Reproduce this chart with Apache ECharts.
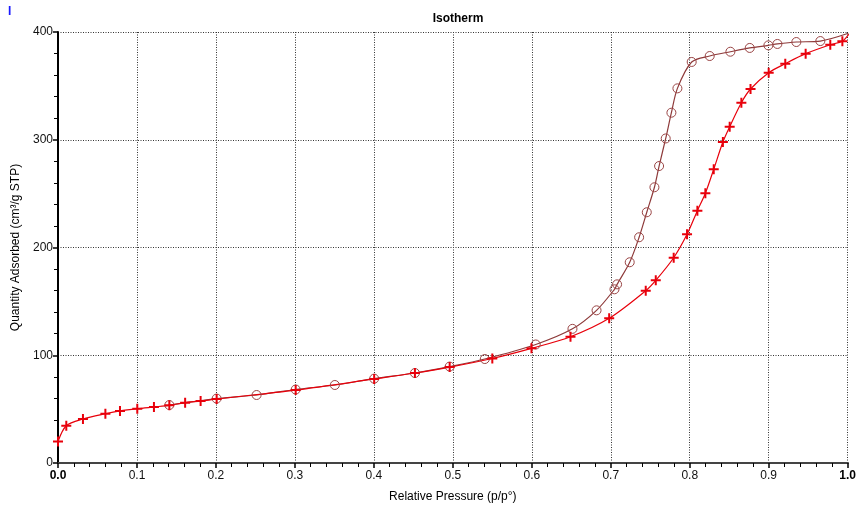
<!DOCTYPE html>
<html><head><meta charset="utf-8">
<script src="https://cdn.jsdelivr.net/npm/echarts@6/dist/echarts.min.js"></script>
<style>html,body{margin:0;padding:0;background:#fff}#c{width:859px;height:511px}</style>
</head><body><div id="c"></div>
<script>
const adsP = [0, 0.0105, 0.0316, 0.060, 0.0785, 0.1004, 0.1215, 0.141, 0.161, 0.1806, 0.2009, 0.301, 0.4004, 0.452, 0.496, 0.55, 0.5996, 0.649, 0.698, 0.7443, 0.757, 0.7797, 0.7966, 0.8097, 0.8198, 0.8304, 0.842, 0.8506, 0.8654, 0.877, 0.9, 0.921, 0.9468, 0.978, 0.9933, 1.0016];
const adsQ = [20, 34.6, 40.8, 45.7, 48.3, 50.4, 52, 53.5, 56, 57.5, 59.4, 67.7, 78, 83.5, 89, 97, 106.4, 117.2, 134.3, 159.9, 169.5, 190.5, 212.2, 234.2, 250.3, 272.6, 297.9, 312.1, 334.4, 347.1, 362.2, 370.6, 379.9, 388.2, 391.4, 398];
const desP = [1.0009, 0.9654, 0.935, 0.911, 0.8996, 0.876, 0.8515, 0.8253, 0.8025, 0.7844, 0.7768, 0.7696, 0.7612, 0.7553, 0.7456, 0.7359, 0.724, 0.708, 0.7047, 0.682, 0.6515, 0.605, 0.5405, 0.496, 0.452, 0.4004, 0.3506, 0.301, 0.2515, 0.2009, 0.141];
const desQ = [398.8, 391.6, 390.7, 388.9, 387.6, 385.2, 381.7, 377.7, 372.2, 347.7, 325.1, 301.2, 275.6, 255.9, 232.7, 209.5, 186.3, 165.8, 161.2, 141.7, 124.5, 110, 96.5, 89.5, 83.5, 78.3, 72.4, 68.2, 63.1, 59.8, 53.8];
const xTicks = ['0.0','0.1','0.2','0.3','0.4','0.5','0.6','0.7','0.8','0.9','1.0'];
const yTicks = ['0','100','200','300','400'];

const ads = adsP.map((p,i)=>[p, adsQ[i]]);
const des = desP.map((p,i)=>[p, desQ[i]]);
const plus = 'path://M-2,-10H2V-2H10V2H2V10H-2V2H-10V-2H-2Z';
const FONT = '"Liberation Sans", Arial, sans-serif';

const chart = echarts.init(document.getElementById('c'), null, {renderer:'canvas'});
chart.setOption({
  animation:false,
  backgroundColor:'#fff',
  title:{text:'Isotherm', left:453, top:8, textAlign:'center',
    textStyle:{fontFamily:FONT, fontSize:12, fontWeight:'bold', color:'#000'}},
  graphic:[{type:'text', left:8, top:6, style:{text:'I', fill:'#1a1aff', font:'bold 12px '+FONT}}],
  grid:{left:58, right:11, top:32, bottom:48},
  xAxis:[{
    type:'value', min:0, max:1, interval:0.1, splitNumber:10,
    name:'Relative Pressure (p/p°)', nameLocation:'middle', nameGap:28,
    nameTextStyle:{fontFamily:FONT, fontSize:12, color:'#000'},
    axisLine:{show:true, onZero:false, lineStyle:{color:'#000', width:2}},
    axisTick:{show:true, length:5, lineStyle:{color:'#000', width:1.5}},
    minorTick:{show:true, splitNumber:5, length:4, lineStyle:{color:'#000', width:1}},
    axisLabel:{fontFamily:FONT, fontSize:12, color:'#111', margin:7,
      formatter:(v)=>{const i=Math.round(v*10); const s=xTicks[i]; return (i===0||i===10)?'{b|'+s+'}':s;},
      rich:{b:{fontFamily:FONT, fontSize:12, fontWeight:'bold', color:'#000'}}},
    splitLine:{show:true, lineStyle:{color:'#333', type:[1,1.5], width:1}}
  },{
    type:'value', position:'top', min:0, max:1,
    axisLine:{show:true, lineStyle:{color:'#444', width:2}},
    axisTick:{show:false}, axisLabel:{show:false}, splitLine:{show:false}
  }],
  yAxis:{
    type:'value', min:0, max:400, interval:100,
    name:'Quantity Adsorbed (cm³/g STP)', nameLocation:'middle', nameGap:36,
    nameTextStyle:{fontFamily:FONT, fontSize:12, color:'#000'},
    axisLine:{show:true, onZero:false, lineStyle:{color:'#000', width:2}},
    axisTick:{show:true, length:5, lineStyle:{color:'#000', width:1.5}},
    minorTick:{show:true, splitNumber:5, length:4, lineStyle:{color:'#000', width:1}},
    axisLabel:{fontFamily:FONT, fontSize:12, color:'#111', margin:5,
      formatter:(v)=>yTicks[Math.round(v/100)]},
    splitLine:{show:true, lineStyle:{color:'#333', type:[1,1.5], width:1}}
  },
  series:[
    {name:'Desorption', type:'line', data:des, smooth:0.3,
      lineStyle:{color:'#8e3a3a', width:1.2},
      symbol:'circle', symbolSize:9,
      itemStyle:{color:'rgba(255,255,255,0)', borderColor:'#9a4545', borderWidth:1}},
    {name:'Adsorption', type:'line', data:ads, smooth:0.3,
      lineStyle:{color:'#e8000b', width:1.2},
      symbol:plus, symbolSize:10,
      itemStyle:{color:'#e8000b'}}
  ]
});
</script></body></html>
